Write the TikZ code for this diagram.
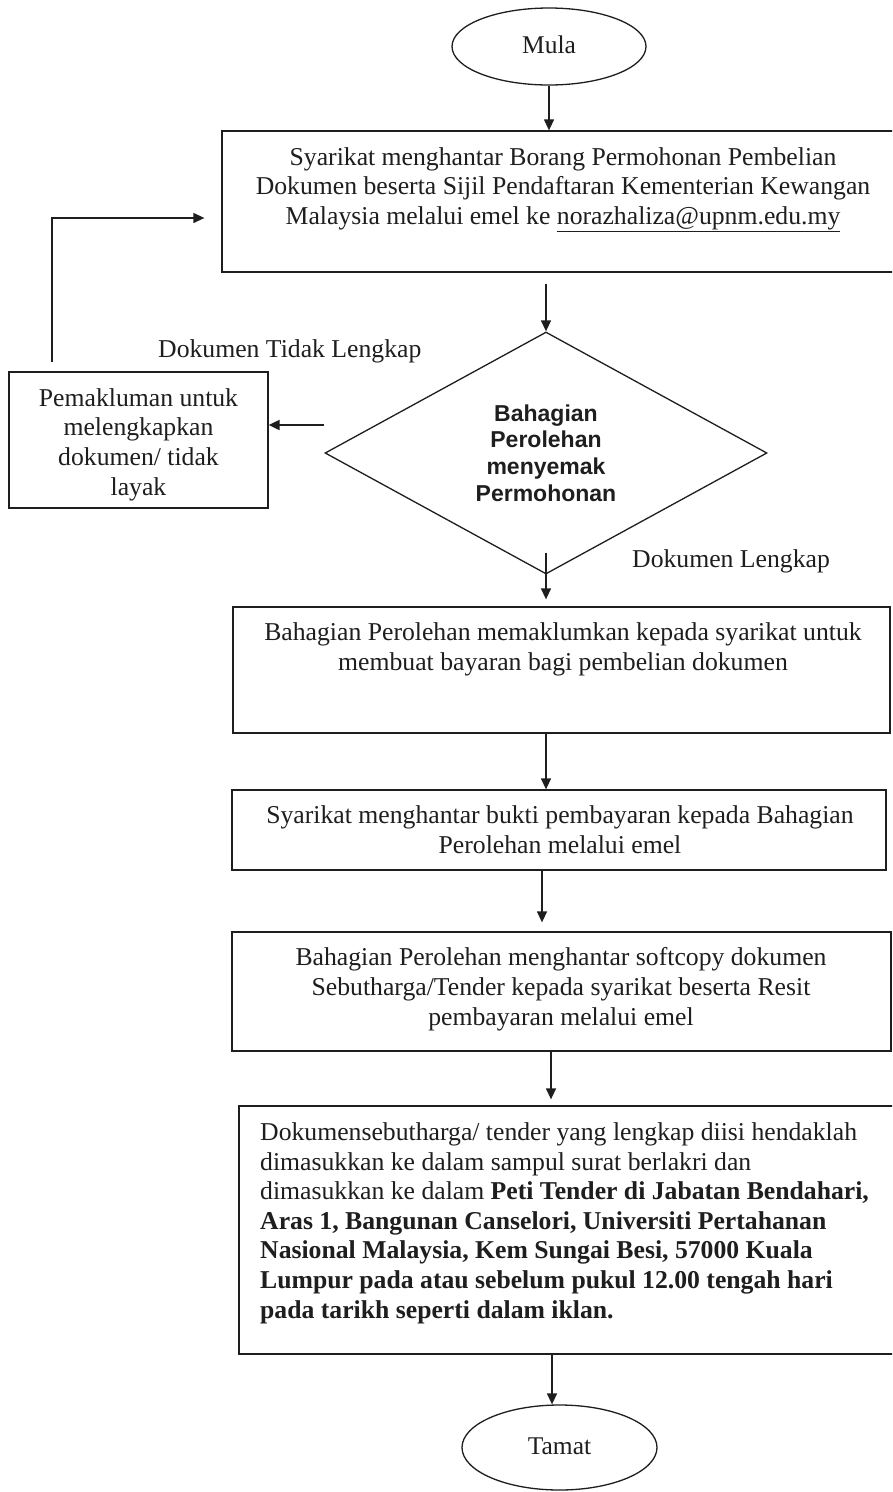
\documentclass[tikz,border=0pt]{standalone}
\usepackage{fontspec}
\setmainfont{Liberation Serif}
\newfontfamily\arialfont{Liberation Sans}
\usetikzlibrary{shapes.geometric,arrows.meta}
\definecolor{ink}{RGB}{30,30,30}
\begin{document}
\begin{tikzpicture}[x=1pt,y=-1pt,
  box/.style={draw=ink,line width=1.3pt,rectangle,inner sep=0pt},
  txt/.style={text=ink,font=\fontsize{25.7}{29.6}\selectfont,align=center,inner sep=0pt,anchor=base},
  arr/.style={draw=ink,line width=1.3pt,-{Triangle[length=11pt,width=10pt]}},
  term/.style={draw=ink,text=ink,ellipse,line width=1.3pt,inner sep=0pt,font=\fontsize{25.5}{29}\selectfont}]
\useasboundingbox (0,0) rectangle (892,1492);
\clip (0,0) rectangle (892,1492);
\fill[white] (0,0) rectangle (892,1492);

% terminals
\node[term,minimum width=194pt,minimum height=77pt] (mula) at (549,46.5) {\raisebox{3pt}{Mula}};
\node[term,minimum width=195pt,minimum height=85pt] (tamat) at (559.5,1447.5) {\raisebox{3pt}{Tamat}};

% box 1 (text node anchored at the baseline of its last line)
\node[box,minimum width=682pt,minimum height=141pt] (b1) at (563,201.5) {};
\node[txt] (t1) at (563,224.2) {Syarikat menghantar Borang Permohonan Pembelian\\Dokumen beserta Sijil Pendaftaran Kementerian Kewangan\\Malaysia melalui emel ke \underline{norazhaliza@upnm.edu.my}};

% decision
\node[draw=ink,text=ink,diamond,line width=1.3pt,minimum width=442pt,minimum height=242pt,inner sep=0pt,aspect=1.826,
      font=\arialfont\bfseries\fontsize{23}{26.7}\selectfont,align=center] (dia) at (546,453) {Bahagian\\Perolehan\\menyemak\\Permohonan};

% side box
\node[box,minimum width=259pt,minimum height=136pt] (sb) at (138.5,440) {};
\node[txt] (tsb) at (138.5,495) {Pemakluman untuk\\melengkapkan\\dokumen/ tidak\\layak};

% labels
\node[txt,anchor=base west] (lbl1) at (158,357) {Dokumen Tidak Lengkap};
\node[txt,anchor=base west] (lbl2) at (632,567) {Dokumen Lengkap};

% box 2
\node[box,minimum width=657pt,minimum height=126pt] (b2) at (561.5,670) {};
\node[txt] (t2) at (563,670) {Bahagian Perolehan memaklumkan kepada syarikat untuk\\membuat bayaran bagi pembelian dokumen};

% box 3
\node[box,minimum width=654pt,minimum height=80pt] (b3) at (559,830) {};
\node[txt] (t3) at (560,853) {Syarikat menghantar bukti pembayaran kepada Bahagian\\Perolehan melalui emel};

% box 4
\node[box,minimum width=659pt,minimum height=119pt] (b4) at (561.5,991.5) {};
\node[txt] (t4) at (561,1025) {Bahagian Perolehan menghantar softcopy dokumen\\Sebutharga/Tender kepada syarikat beserta Resit\\pembayaran melalui emel};

% box 5
\node[box,minimum width=666pt,minimum height=248pt] (b5) at (572,1230) {};
\node[txt,align=left,anchor=base west] (t5) at (260,1318) {Dokumensebutharga/ tender yang lengkap diisi hendaklah\\
dimasukkan ke dalam sampul surat berlakri dan\\
dimasukkan ke dalam \textbf{Peti Tender di Jabatan Bendahari,}\\
\textbf{Aras 1, Bangunan Canselori, Universiti Pertahanan}\\
\textbf{Nasional Malaysia, Kem Sungai Besi, 57000 Kuala}\\
\textbf{Lumpur pada atau sebelum pukul 12.00 tengah hari}\\
\textbf{pada tarikh seperti dalam iklan.}};

% connectors
\coordinate (loopx) at (52,218);
\draw[arr] (mula.south) -- (mula.south |- b1.north);
\draw[arr] ([yshift=-11pt]b1.south -| dia.north) -- (dia.north);
\draw[arr] ([yshift=22pt]dia.south) -- ([yshift=7pt]dia.south |- b2.north);
\draw[arr] (b2.south -| dia.south) -- (b3.north -| dia.south);
\draw[arr] ([xshift=-4pt]b3.south -| dia.south) -- ([xshift=-4pt,yshift=9pt]b4.north -| dia.south);
\draw[arr] ([xshift=5pt]b4.south -| dia.south) -- ([xshift=5pt,yshift=6pt]b5.north -| dia.south);
\draw[arr] ([xshift=6pt]b5.south -| dia.south) -- ([xshift=6pt]tamat.north -| dia.south);
\draw[arr,line width=2pt] ([yshift=28pt]dia.west) -- ([yshift=28pt]dia.west -| sb.east);
\draw[arr] ([yshift=9pt]sb.north -| loopx) -- (loopx) -- ([xshift=-17pt]b1.west |- loopx);
\end{tikzpicture}
\end{document}
